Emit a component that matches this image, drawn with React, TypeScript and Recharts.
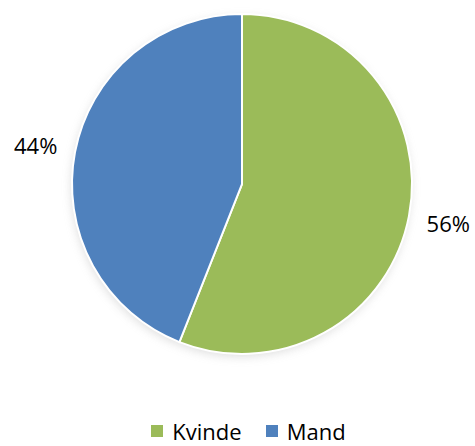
import { PieChart, Pie, Cell, Legend } from "recharts"

const categories = ["Kvinde", "Mand"]
const shares = [56, 44]
const COLORS = ["#9BBB59", "#4F81BD"]
const SHADOW = "#999"

const data = categories.map((name, i) => ({ name, value: shares[i] }))

const RADIAN = Math.PI / 180

const renderLabel = ({ cx, cy, midAngle, outerRadius, percent }: any) => {
  const r = outerRadius + 40
  const x = cx + r * Math.cos(-midAngle * RADIAN)
  const y = cy + r * Math.sin(-midAngle * RADIAN)
  return (
    <text
      x={x}
      y={y}
      fill="#000"
      fontSize={22}
      textAnchor="middle"
      dominantBaseline="central"
    >
      {`${Math.round(percent * 100)}%`}
    </text>
  )
}

const renderLegend = ({ payload }: any) => {
  // skip the shadow pie's entries
  const items = (payload || []).filter((p: any) => p.color !== SHADOW)
  return (
    <div style={{ display: "flex", justifyContent: "center", paddingLeft: 22 }}>
      {items.map((item: any, i: number) => (
        <div key={i} style={{ display: "flex", alignItems: "center", marginRight: i < items.length - 1 ? 24 : 0 }}>
          <span style={{ width: 12, height: 12, background: item.color, marginRight: 9, display: "inline-block" }} />
          <span style={{ color: "#000", fontSize: 22, lineHeight: "30px" }}>{item.value}</span>
        </div>
      ))}
    </div>
  )
}

export default function App() {
  return (
    <div style={{ position: "fixed", top: 0, left: 0, background: "#fff", fontFamily: "'Open Sans', sans-serif" }}>
      <style>{`.pie-shadow { filter: blur(3px); opacity: 0.55; }`}</style>
      <PieChart width={475} height={446} margin={{ top: 0, right: 0, bottom: 0, left: 0 }}>
        {/* soft shadow under the pie */}
        <Pie
          data={data}
          dataKey="value"
          cx={241}
          cy={187}
          outerRadius={170}
          startAngle={90}
          endAngle={-270}
          stroke="none"
          fill={SHADOW}
          className="pie-shadow"
          legendType="none"
          isAnimationActive={false}
        />
        <Pie
          data={data}
          dataKey="value"
          nameKey="name"
          cx={242}
          cy={184}
          outerRadius={170}
          startAngle={90}
          endAngle={-270}
          stroke="#fff"
          strokeWidth={2}
          labelLine={false}
          label={renderLabel}
          isAnimationActive={false}
        >
          {data.map((entry, index) => (
            <Cell key={`cell-${index}`} fill={COLORS[index % COLORS.length]} />
          ))}
        </Pie>
        <Legend
          verticalAlign="bottom"
          align="center"
          content={renderLegend}
          wrapperStyle={{ bottom: 0 }}
        />
      </PieChart>
    </div>
  )
}
